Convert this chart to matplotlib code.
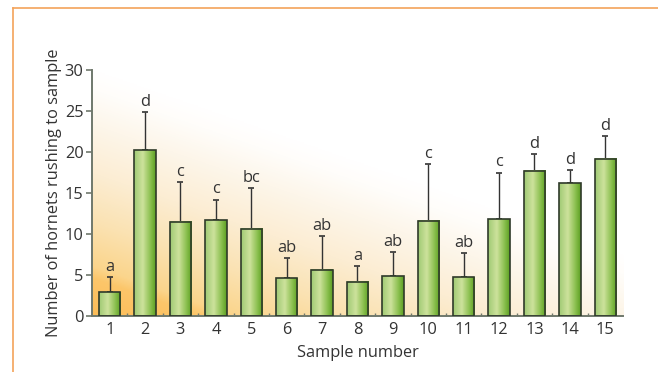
import numpy as np
import matplotlib.pyplot as plt
from matplotlib.colors import LinearSegmentedColormap
from matplotlib.lines import Line2D

# values
samples = list(range(1, 16))
means = [2.9, 20.2, 11.5, 11.7, 10.65, 4.6, 5.65, 4.2, 4.85, 11.6, 4.7, 11.8, 17.7, 16.2, 19.2]
upper = [4.8, 24.9, 16.3, 14.2, 15.6, 7.1, 9.7, 6.1, 7.8, 18.5, 7.7, 17.5, 19.8, 17.8, 21.9]
letters = ['a', 'd', 'c', 'c', 'bc', 'ab', 'ab', 'a', 'ab', 'c', 'ab', 'c', 'd', 'd', 'd']

txt = '#333333'
fs = 11.8
plt.rcParams['font.family'] = ['Open Sans', 'DejaVu Sans']

fig = plt.figure(figsize=(6.58, 3.72), dpi=100)
ax = fig.add_axes([0.1398, 0.1505, 0.807, 0.6613])

# orange -> white diagonal background
bg_cmap = LinearSegmentedColormap.from_list('bg', [(0, '#fcbd58'), (0.15, '#fcc66a'), (0.2, '#fbd58c'),
                                                  (0.38, '#fae2b2'), (0.58, '#fcedd3'), (0.78, '#fdf6ea'),
                                                  (0.92, '#fffdfa'), (1, '#ffffff')])
u, v = np.meshgrid(np.linspace(0, 1, 300), np.linspace(0, 1, 200))
t = np.clip(0.75 * u + v, 0, 1)
ax.imshow(t, cmap=bg_cmap, extent=[0.5, 15.5, 0, 30], origin='lower', aspect='auto', zorder=0,
          interpolation='bilinear')

# green bars with horizontal shading
bar_cmap = LinearSegmentedColormap.from_list('bar', [(0, '#a0ca74'), (0.4, '#cde29c'),
                                                    (0.75, '#8cc050'), (1, '#5c9f22')])
grad = np.linspace(0, 1, 64).reshape(1, -1)
w = 0.6
for x, m in zip(samples, means):
    ax.imshow(grad, cmap=bar_cmap, extent=[x - w / 2, x + w / 2, 0, m], aspect='auto', zorder=2)
ax.bar(samples, means, width=w, facecolor='none', edgecolor='#2f3a2a', linewidth=1.2, zorder=3)

err = np.array(upper) - np.array(means)
ax.errorbar(samples, means, yerr=[np.zeros(len(err)), err], fmt='none', ecolor='#333333',
            elinewidth=1, capsize=2.5, capthick=1.2, zorder=1)

for x, top, lab in zip(samples, upper, letters):
    ax.annotate(lab, (x, top), xytext=(0, 1.5), textcoords='offset points', ha='center', va='bottom',
                fontsize=fs, color=txt)

ax.set_xlim(0.5, 15.5)
ax.set_ylim(0, 30)
ax.set_xticks(samples)
ax.set_xticks(np.arange(1.5, 15, 1), minor=True)
ax.set_yticks(range(0, 31, 5))
for s in ['top', 'right']:
    ax.spines[s].set_visible(False)
for s in ['left', 'bottom']:
    ax.spines[s].set_color('#6f786c')
    ax.spines[s].set_linewidth(1.4)
ax.tick_params(axis='y', direction='out', length=4, width=1.2, color='#6f786c',
               labelsize=fs, labelcolor=txt, pad=2)
ax.tick_params(axis='x', which='major', length=0, labelsize=fs, labelcolor=txt, pad=4)
ax.tick_params(axis='x', which='minor', direction='in', length=2.5, width=1, color='#6f786c')

ax.set_xlabel('Sample number', fontsize=fs, color=txt, labelpad=5)
ax.set_ylabel('Number of hornets rushing to sample', fontsize=fs, color=txt, labelpad=2)

# orange frame lines
fig.add_artist(Line2D([12.5 / 658, 12.5 / 658], [1 - 7.5 / 372, 0], color='#f4a35a', lw=1.2))
fig.add_artist(Line2D([12.5 / 658, 1], [1 - 7.5 / 372, 1 - 7.5 / 372], color='#f4a35a', lw=1.2))

fig.savefig('out.png', dpi=100)
